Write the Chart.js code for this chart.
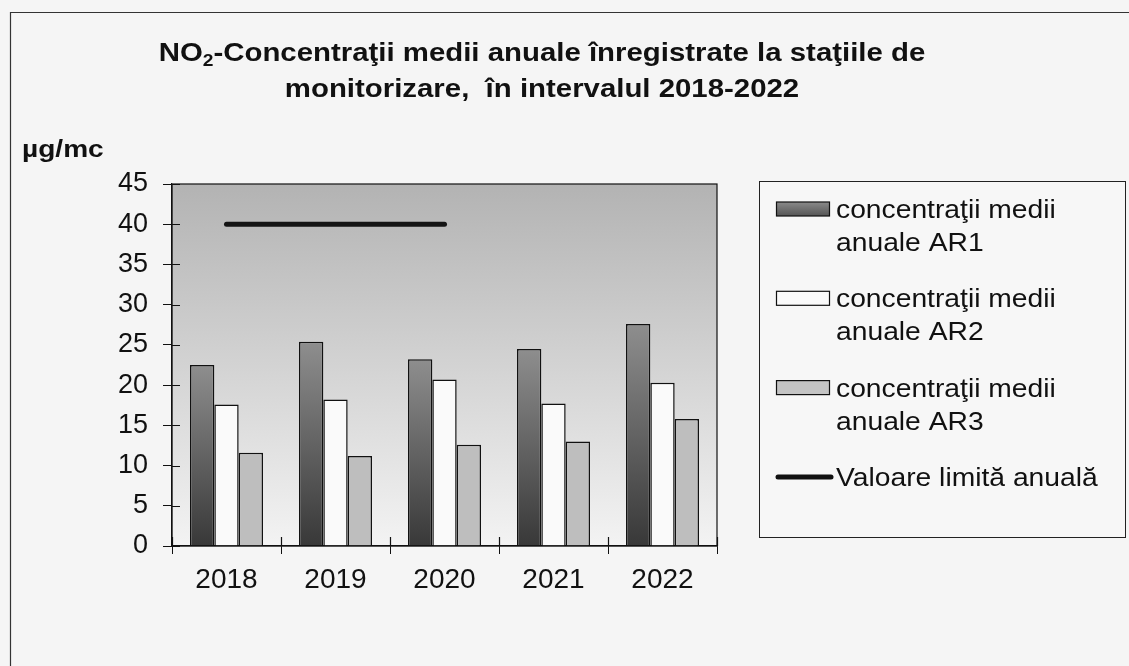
<!DOCTYPE html>
<html>
<head>
<meta charset="utf-8">
<script src="https://cdn.jsdelivr.net/npm/chart.js@4.4.1/dist/chart.umd.min.js"></script>
<style>
  html, body { margin: 0; padding: 0; background: #f5f5f5; }
  #wrap { width: 1129px; height: 666px; position: relative; }
</style>
</head>
<body>
<div id="wrap"><canvas id="c" width="1129" height="666"></canvas></div>
<script>
// ---- data ----
const categories = ['2018', '2019', '2020', '2021', '2022'];
const ar1 = [22.5, 25.4, 23.2, 24.5, 27.6];
const ar2 = [17.6, 18.2, 20.7, 17.7, 20.3];
const ar3 = [11.6, 11.2, 12.6, 13.0, 15.8];
const limitValue = [40, 40, 40, null, null];
const seriesNames = [
  'concentraţii medii anuale AR1',
  'concentraţii medii anuale AR2',
  'concentraţii medii anuale AR3',
  'Valoare limită anuală'
];
const titleLines = ['NO|2|-Concentraţii medii anuale înregistrate la staţiile de', 'monitorizare,  în intervalul 2018-2022'];
const unitLabel = 'µg/mc';
const yMin = 0, yMax = 45, yStep = 5;

const FONT = '"Liberation Sans", Arial, sans-serif';

function drawScaledText(ctx, text, x, y, font, sx, align) {
  ctx.save();
  ctx.font = font;
  const w = ctx.measureText(text).width * sx;
  let x0 = x;
  if (align === 'center') x0 = x - w / 2;
  else if (align === 'right') x0 = x - w;
  ctx.translate(x0, y);
  ctx.scale(sx, 1);
  ctx.textAlign = 'left';
  ctx.textBaseline = 'alphabetic';
  ctx.fillText(text, 0, 0);
  ctx.restore();
  return w;
}

const decorPlugin = {
  id: 'decor',
  beforeDraw(chart) {
    const { ctx, chartArea: a } = chart;
    ctx.save();
    ctx.fillStyle = '#f5f5f5';
    ctx.fillRect(0, 0, chart.width, chart.height);
    // outer frame
    ctx.strokeStyle = '#333';
    ctx.lineWidth = 1.2;
    ctx.beginPath();
    ctx.moveTo(1129, 12.5); ctx.lineTo(10.5, 12.5); ctx.lineTo(10.5, 666);
    ctx.stroke();
    // plot background gradient
    const g = ctx.createLinearGradient(0, a.top, 0, a.bottom);
    g.addColorStop(0, '#b3b3b3');
    g.addColorStop(0.55, '#d6d6d6');
    g.addColorStop(1, '#f3f3f3');
    ctx.fillStyle = g;
    ctx.fillRect(a.left, a.top, a.right - a.left, a.bottom - a.top);
    ctx.restore();
  },
  afterDraw(chart) {
    const { ctx, chartArea: a } = chart;
    const xs = chart.scales.x, ys = chart.scales.y;
    ctx.save();
    // plot border
    ctx.strokeStyle = '#111';
    ctx.lineWidth = 1.2;
    ctx.strokeRect(a.left, a.top, a.right - a.left, a.bottom - a.top);
    // inner parts of crossing ticks
    ctx.beginPath();
    for (let v = yMin; v <= yMax; v += yStep) {
      const y = Math.round(ys.getPixelForValue(v)) + 0.5;
      ctx.moveTo(a.left, y); ctx.lineTo(a.left + 8, y);
    }
    const n = categories.length;
    for (let i = 0; i <= n; i++) {
      const x = Math.round(xs.left + i * (xs.right - xs.left) / n) + 0.5;
      ctx.moveTo(x, a.bottom); ctx.lineTo(x, a.bottom - 9);
    }
    ctx.stroke();

    // title
    ctx.fillStyle = '#111';
    const tf = 'bold 26px ' + FONT;
    const sf = 'bold 17px ' + FONT;
    const tsx = 1.13;
    const parts = titleLines[0].split('|');
    ctx.font = tf;
    const wA = ctx.measureText(parts[0]).width * tsx;
    ctx.font = sf;
    const wB = ctx.measureText(parts[1]).width * tsx;
    ctx.font = tf;
    const wC = ctx.measureText(parts[2]).width * tsx;
    const total = wA + wB + wC;
    let x = 542 - total / 2;
    drawScaledText(ctx, parts[0], x, 61, tf, tsx, 'left'); x += wA;
    drawScaledText(ctx, parts[1], x, 66, sf, tsx, 'left'); x += wB;
    drawScaledText(ctx, parts[2], x, 61, tf, tsx, 'left');
    drawScaledText(ctx, titleLines[1], 542, 97, tf, tsx, 'center');

    // unit label
    drawScaledText(ctx, unitLabel, 22, 157, 'bold 24px ' + FONT, 1.17, 'left');

    // legend
    const lx = 759.5, ly = 181.5, lw = 366, lh = 356;
    ctx.fillStyle = '#f7f7f7';
    ctx.fillRect(lx, ly, lw, lh);
    ctx.strokeStyle = '#222';
    ctx.lineWidth = 1;
    ctx.strokeRect(lx, ly, lw, lh);
    const lf = '25px ' + FONT, lsx = 1.13;
    const ds = chart.data.datasets;
    const swatchFill = ['#6a6a6a', '#fafafa', '#c4c4c4'];
    ds.forEach((d, i) => {
      const cy = 209 + i * 89.3;
      if (d.type === 'line') {
        ctx.strokeStyle = '#111';
        ctx.lineWidth = 5;
        ctx.lineCap = 'round';
        ctx.beginPath(); ctx.moveTo(778, cy); ctx.lineTo(831, cy); ctx.stroke();
        ctx.lineCap = 'butt';
      } else {
        if (i === 0) {
          const sg = ctx.createLinearGradient(0, cy - 7, 0, cy + 7);
          sg.addColorStop(0, '#8a8a8a'); sg.addColorStop(1, '#555');
          ctx.fillStyle = sg;
        } else ctx.fillStyle = swatchFill[i];
        ctx.fillRect(776.5, cy - 7, 53, 14);
        ctx.strokeStyle = '#111'; ctx.lineWidth = 1.2;
        ctx.strokeRect(776.5, cy - 7, 53, 14);
      }
      // wrap text
      ctx.font = lf;
      const words = d.label.split(' ');
      const lines = []; let cur = '';
      words.forEach(wd => {
        const t = cur ? cur + ' ' + wd : wd;
        if (ctx.measureText(t).width * lsx > 282 && cur) { lines.push(cur); cur = wd; }
        else cur = t;
      });
      if (cur) lines.push(cur);
      ctx.fillStyle = '#111';
      lines.forEach((ln, k) => {
        drawScaledText(ctx, ln, 836, cy + 9 + k * 33, lf, lsx, 'left');
      });
    });
    ctx.restore();
  }
};

function ar1Fill(c) {
  const chart = c.chart;
  const ca = chart.chartArea;
  if (!ca || c.raw == null) return '#666';
  const top = chart.scales.y.getPixelForValue(c.raw);
  const g = chart.ctx.createLinearGradient(0, top, 0, ca.bottom);
  g.addColorStop(0, '#8e8e8e');
  g.addColorStop(1, '#383838');
  return g;
}

new Chart(document.getElementById('c'), {
  data: {
    labels: categories,
    datasets: [
      { type: 'bar', label: seriesNames[0], data: ar1, backgroundColor: ar1Fill, borderColor: '#111', borderWidth: 1.5, borderSkipped: 'bottom', order: 2 },
      { type: 'bar', label: seriesNames[1], data: ar2, backgroundColor: '#fafafa', borderColor: '#111', borderWidth: 1.5, borderSkipped: 'bottom', order: 2 },
      { type: 'bar', label: seriesNames[2], data: ar3, backgroundColor: '#bebebe', borderColor: '#111', borderWidth: 1.5, borderSkipped: 'bottom', order: 2 },
      { type: 'line', label: seriesNames[3], data: limitValue, borderColor: '#141414', borderWidth: 5, borderCapStyle: 'round', pointRadius: 0, pointHoverRadius: 0, spanGaps: false, fill: false, order: 1 }
    ]
  },
  options: {
    responsive: false,
    animation: false,
    devicePixelRatio: 1,
    layout: { padding: { top: 184, right: 412, left: 0, bottom: 0 } },
    datasets: { bar: { categoryPercentage: 0.67, barPercentage: 1.0 } },
    plugins: { legend: { display: false }, title: { display: false }, tooltip: { enabled: false } },
    scales: {
      x: {
        offset: true,
        grid: { offset: true, drawOnChartArea: false, drawTicks: true, tickLength: 8, color: '#111', lineWidth: 1 },
        border: { display: true, color: '#111', width: 1.2 },
        ticks: { color: '#111', font: { family: FONT, size: 28 }, padding: 9 },
        afterFit(s) { s.height = 120; }
      },
      y: {
        min: yMin, max: yMax,
        grid: { drawOnChartArea: false, drawTicks: true, tickLength: 9, color: '#111', lineWidth: 1 },
        border: { display: true, color: '#111', width: 1.2 },
        ticks: { stepSize: yStep, color: '#111', font: { family: FONT, size: 27 }, padding: 15 },
        afterFit(s) { s.width = 172; }
      }
    }
  },
  plugins: [decorPlugin]
});
</script>
</body>
</html>
